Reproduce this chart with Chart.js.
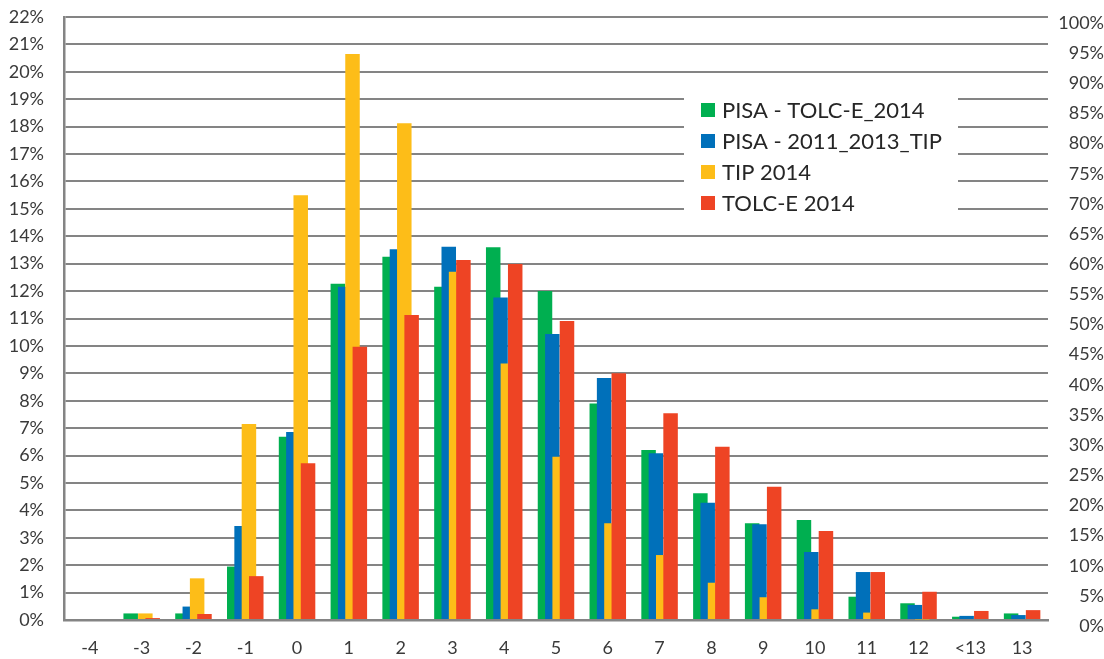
<!DOCTYPE html>
<html>
<head>
<meta charset="utf-8">
<script src="https://cdn.jsdelivr.net/npm/chart.js@4.4.0/dist/chart.umd.min.js"></script>
<style>
  html, body { margin: 0; padding: 0; background: #fff; }
</style>
</head>
<body>
<canvas id="bar" width="1104" height="659"></canvas>
<script>
'use strict';

// x축 카테고리
const categories = ['-4', '-3', '-2', '-1', '0', '1', '2', '3', '4', '5', '6', '7', '8', '9', '10', '11', '12', '<13', '13'];

// 시리즈 이름
const seriesNames = ['PISA - TOLC-E_2014', 'PISA - 2011_2013_TIP', 'TIP 2014', 'TOLC-E 2014'];

// 시리즈 값 (%)
const pisaTolc = [0, 0.24, 0.24, 1.95, 6.69, 12.27, 13.25, 12.16, 13.6, 12.0, 7.9, 6.2, 4.62, 3.53, 3.65, 0.85, 0.61, 0.12, 0.24];
const pisaTip = [0, 0, 0.49, 3.43, 6.86, 12.16, 13.53, 13.62, 11.77, 10.43, 8.83, 6.08, 4.28, 3.49, 2.48, 1.75, 0.55, 0.15, 0.18];
const tip2014 = [0, 0.24, 1.52, 7.15, 15.5, 20.65, 18.12, 12.71, 9.36, 5.96, 3.53, 2.37, 1.36, 0.83, 0.39, 0.27, 0.02, 0, 0];
const tolc2014 = [0, 0.07, 0.22, 1.6, 5.72, 9.97, 11.13, 13.13, 12.99, 10.91, 9.0, 7.54, 6.32, 4.86, 3.25, 1.75, 1.03, 0.33, 0.36];

// 축 눈금 범위
const leftMax = 22;   // 왼쪽 축 0% ~ 22%, 1% 간격
const rightMax = 100; // 오른쪽 축 0% ~ 100%, 5% 간격

const colors = ['#00AF50', '#0070BA', '#FDBD18', '#EE4424'];
// 막대를 반씩 겹치게 하려고 시리즈마다 숨은 x축을 조금씩 민다 (카테고리 단위)
const shifts = [-0.2124, -0.0708, 0.0708, 0.2124];
const gridColor = '#848484';
const textColor = '#3a3a3a';
const fontFamily = 'Lato, "Liberation Sans", sans-serif';

const seriesValues = [pisaTolc, pisaTip, tip2014, tolc2014];

const datasets = seriesValues.map((vals, k) => ({
    label: seriesNames[k],
    data: vals.map((v, i) => ({ x: i, y: v })),
    backgroundColor: colors[k],
    borderWidth: 0,
    grouped: false,
    categoryPercentage: 1,
    barPercentage: 0.28,
    xAxisID: 'x' + k,
    yAxisID: 'y',
    order: 3 - k   // 빨강이 맨 위에 그려지도록
}));

// 축 라벨 여백이 차트 영역을 밀어내지 않도록
function noPad(ax) {
    ax.paddingTop = 0;
    ax.paddingBottom = 0;
    ax.paddingLeft = 0;
    ax.paddingRight = 0;
}

const scales = {
    x: {
        type: 'linear',
        position: 'bottom',
        bounds: 'data',
        offset: false,
        min: -0.5,
        max: categories.length - 0.5,
        afterBuildTicks: ax => { ax.ticks = categories.map((c, i) => ({ value: i })); },
        afterFit: ax => { ax.height = 39; noPad(ax); },
        ticks: {
            autoSkip: false,
            maxRotation: 0,
            padding: 17,
            color: textColor,
            font: { family: fontFamily, size: 18 },
            callback: v => categories[v]
        },
        grid: { display: false, drawTicks: false },
        border: { display: true, color: gridColor, width: 2.5 }
    },
    y: {
        position: 'left',
        min: 0,
        max: leftMax,
        afterFit: ax => { ax.width = 64; noPad(ax); },
        ticks: {
            stepSize: 1,
            padding: 20,
            color: textColor,
            font: { family: fontFamily, size: 18 },
            callback: v => v + '%'
        },
        grid: { color: gridColor, lineWidth: 2, drawTicks: false },
        border: { display: true, color: gridColor, width: 2.5 }
    },
    y2: {
        position: 'right',
        min: 0,
        max: rightMax,
        afterFit: ax => { ax.width = 56; noPad(ax); },
        ticks: {
            stepSize: 5,
            padding: 8,
            labelOffset: 6,
            crossAlign: 'far',
            color: textColor,
            font: { family: fontFamily, size: 18 },
            callback: v => v + '%'
        },
        grid: { display: false, drawTicks: false },
        border: { display: false }
    }
};

shifts.forEach((s, k) => {
    scales['x' + k] = {
        type: 'linear',
        display: false,
        bounds: 'data',
        offset: false,
        min: -0.5 - s,
        max: categories.length - 0.5 - s,
        afterBuildTicks: ax => { ax.ticks = []; }
    };
});

// 차트 안쪽 범례 (흰 배경 박스)
const boxLegend = {
    id: 'boxLegend',
    afterDatasetsDraw(chart) {
        const ctx = chart.ctx;
        ctx.save();
        ctx.fillStyle = '#ffffff';
        ctx.fillRect(684, 82, 274, 140);
        ctx.font = '22px ' + fontFamily;
        ctx.textBaseline = 'middle';
        seriesNames.forEach((name, k) => {
            const cy = 110 + k * 31;
            ctx.fillStyle = colors[k];
            ctx.fillRect(701, cy - 7, 14, 14);
            ctx.fillStyle = '#262626';
            ctx.fillText(name, 722, cy + 1);
        });
        ctx.restore();
    }
};

window.onload = function () {
    new Chart(document.getElementById('bar'), {
        type: 'bar',
        data: { datasets },
        options: {
            responsive: false,
            animation: false,
            layout: { padding: { top: 17, left: 0, right: 0, bottom: 0 } },
            plugins: {
                legend: { display: false },
                tooltip: { enabled: false }
            },
            scales
        },
        plugins: [boxLegend]
    });
};
</script>
</body>
</html>
